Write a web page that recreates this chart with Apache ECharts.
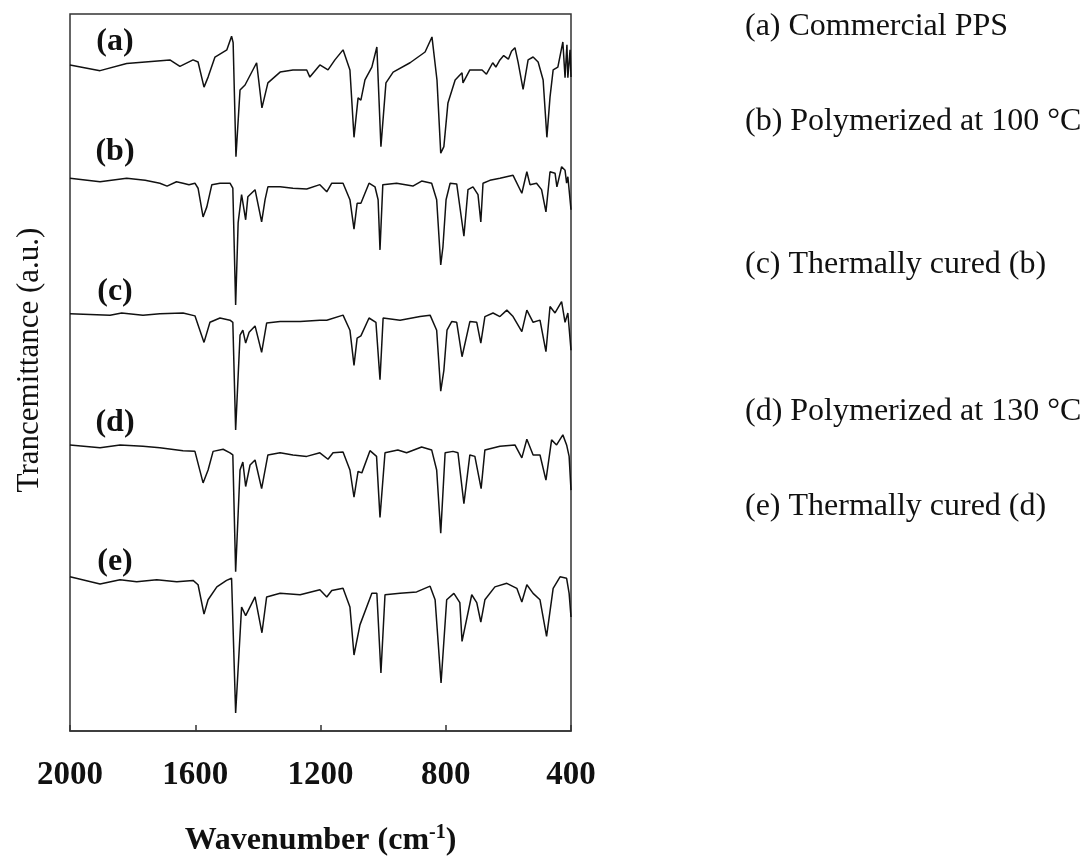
<!DOCTYPE html>
<html>
<head>
<meta charset="utf-8">
<script src="https://cdn.jsdelivr.net/npm/echarts@6/dist/echarts.min.js"></script>
<style>
  html, body { margin: 0; padding: 0; background: #fff; }
  #chart { width: 1083px; height: 857px; }
</style>
</head>
<body>
<div id="chart"></div>
<script>
// wavenumber (cm-1) and transmittance (a.u., stacked offsets)
const waveA = [2000,1995,1904,1819,1681,1649,1607,1591,1572,1559,1537,1499,1484,1479,1470,1457,1441,1404,1387,1368,1329,1288,1244,1234,1202,1176,1154,1128,1122,1106,1093,1080,1071,1058,1036,1020,1007,991,968,914,866,844,838,828,816,806,793,770,748,745,723,684,670,650,640,627,615,600,590,579,569,553,537,521,505,489,477,467,457,442,426,419,413,410,403,400]
const transA = [92.9,92.9,92.1,93.1,93.6,92.7,93.6,93.3,89.8,91.2,94.0,95.0,96.9,96.0,80.1,89.4,90.1,93.2,86.9,90.4,91.9,92.2,92.2,91.2,92.9,92.2,93.6,95.0,95.1,92.2,82.8,88.3,88.0,90.8,92.6,95.4,81.5,90.4,91.9,93.2,94.7,96.8,96.7,90.8,80.6,81.5,87.6,90.8,91.8,90.4,92.2,92.2,91.6,93.2,92.6,93.6,94.2,93.7,94.8,95.3,93.3,89.5,93.6,94.0,93.3,90.8,82.8,88.4,92.2,92.6,96.1,91.1,95.7,91.1,95.0,91.2]

const waveB = [2000,1995,1904,1819,1760,1713,1690,1660,1639,1620,1601,1591,1575,1563,1547,1521,1489,1480,1471,1463,1452,1439,1432,1409,1388,1377,1368,1329,1288,1244,1202,1180,1164,1128,1106,1093,1083,1071,1045,1026,1016,1010,1001,957,905,877,845,829,816,809,799,786,765,742,729,713,697,688,681,659,627,585,557,541,531,510,494,480,467,451,445,430,419,414,410,400]
const transB = [77.1,77.1,76.6,77.1,76.8,76.4,76.0,76.6,76.4,76.2,76.4,75.7,71.7,73.1,76.2,76.4,76.4,75.7,59.4,70.9,74.8,71.3,74.5,75.5,71.0,74.1,75.9,75.9,75.7,75.6,76.2,75.2,76.4,76.4,74.1,70.0,73.6,73.6,76.4,75.9,74.1,67.1,76.2,76.4,76.0,76.7,76.4,74.1,65.0,67.5,74.1,76.4,76.3,69.0,75.5,75.9,74.8,71.0,76.4,76.8,77.1,77.5,75.0,78.0,76.2,76.4,75.5,72.4,78.0,77.8,75.9,78.7,78.2,76.4,77.3,72.7]

const waveC = [2000,1995,1872,1835,1767,1713,1639,1601,1572,1553,1521,1489,1480,1471,1457,1448,1439,1428,1409,1388,1372,1329,1265,1202,1180,1128,1106,1093,1083,1071,1045,1023,1010,1000,946,882,850,829,816,806,796,781,765,748,723,701,688,675,649,627,605,585,557,541,521,499,480,467,451,430,419,410,400]
const transC = [58.2,58.2,58.0,58.3,58.0,58.2,58.3,57.9,54.2,57.0,57.6,57.3,57.0,42.0,55.2,55.9,54.1,55.6,56.5,52.8,56.9,57.1,57.1,57.3,57.3,58.0,55.9,51.0,54.8,55.1,57.6,57.0,49.0,57.6,57.3,57.8,58.0,55.9,47.4,50.3,55.9,57.1,57.0,52.2,57.1,57.0,54.1,57.8,58.3,57.8,58.7,57.8,55.7,58.7,57.0,57.3,52.9,59.2,58.3,59.9,57.0,58.3,53.1]

const waveD = [2000,1995,1904,1840,1767,1713,1639,1601,1575,1559,1543,1511,1489,1480,1471,1457,1448,1439,1425,1409,1388,1368,1329,1288,1244,1202,1176,1160,1128,1106,1093,1080,1068,1042,1021,1010,994,953,925,877,845,829,816,802,777,761,742,723,707,687,675,627,579,557,541,521,499,480,462,446,426,414,406,400]
const transD = [39.9,39.9,39.5,39.9,39.7,39.5,39.1,39.0,34.6,36.4,39.0,39.3,38.8,38.5,22.2,36.4,37.5,34.1,37.1,37.8,33.8,38.5,38.8,38.5,38.3,38.8,37.9,38.8,38.9,36.4,32.6,36.2,36.0,39.1,38.3,29.8,38.8,39.2,38.8,39.6,39.2,36.4,27.6,38.8,39.0,38.8,31.7,38.5,38.3,33.8,39.2,39.7,39.9,38.1,40.7,38.5,38.5,35.0,40.6,39.9,41.3,39.9,38.3,33.6]

const waveE = [2000,1995,1904,1840,1787,1723,1659,1607,1591,1572,1559,1531,1500,1484,1471,1452,1439,1425,1409,1387,1372,1329,1265,1202,1180,1164,1128,1106,1093,1074,1036,1020,1007,994,946,893,850,834,815,797,774,755,748,717,701,688,675,643,605,573,557,541,521,499,478,457,435,414,406,400]
const transE = [21.5,21.5,20.5,21.1,20.8,21.1,20.8,21.0,20.4,16.3,18.3,20.1,21.0,21.3,2.5,17.3,16.1,17.3,18.7,13.7,18.7,19.2,19.0,19.7,18.7,19.6,19.9,17.3,10.6,14.8,19.2,19.2,8.1,19.0,19.2,19.4,20.2,18.3,6.7,18.3,19.2,17.9,12.5,19.0,17.9,15.2,18.3,20.1,20.6,19.9,18.0,20.4,19.2,18.3,13.2,19.9,21.5,21.3,19.2,15.9]

const sampleTags = ['(a)', '(b)', '(c)', '(d)', '(e)']
const sampleNames = ['(a) Commercial PPS', '(b) Polymerized at 100 °C', '(c) Thermally cured (b)', '(d) Polymerized at 130 °C', '(e) Thermally cured (d)']
const xTicks = [2000, 1600, 1200, 800, 400]

const serif = '"Times New Roman", "Liberation Serif", serif'
const waves = [waveA, waveB, waveC, waveD, waveE]
const trans = [transA, transB, transC, transD, transE]

function pairs(w, t) {
  return w.map((v, i) => [v, t[i]])
}

// label positions (px) - in-plot tags and the list on the right
const tagY = [42, 152, 292, 423, 562]
const nameY = [27, 122, 265, 412, 507]

const chart = echarts.init(document.getElementById('chart'))

const graphics = []
sampleTags.forEach((tag, i) => {
  graphics.push({
    type: 'text', x: 115, y: tagY[i],
    style: { text: tag, font: 'bold 32px ' + serif, fill: '#111', textAlign: 'center', textVerticalAlign: 'middle' },
  })
})
sampleNames.forEach((name, i) => {
  graphics.push({
    type: 'text', x: 745, y: nameY[i],
    style: { text: name, font: '32px ' + serif, fill: '#111', textAlign: 'left', textVerticalAlign: 'middle' },
  })
})
graphics.push({
  type: 'text', x: 30, y: 360, rotation: Math.PI / 2,
  style: { text: 'Trancemittance (a.u.)', font: '31px ' + serif, fill: '#111', textAlign: 'center', textVerticalAlign: 'middle' },
})

chart.setOption({
  animation: false,
  backgroundColor: '#fff',
  grid: {
    left: 70, right: 512, top: 14, bottom: 126,
    outerBoundsMode: 'none',
    show: true, borderColor: '#333', borderWidth: 1.5,
  },
  xAxis: {
    type: 'value',
    inverse: true,
    min: 400,
    max: 2000,
    interval: 400,
    splitLine: { show: false },
    axisLine: { show: true, lineStyle: { color: '#333', width: 1.5 } },
    axisTick: { show: true, inside: true, length: 6, lineStyle: { color: '#333', width: 1.5 } },
    axisLabel: {
      margin: 28,
      fontFamily: serif, fontWeight: 'bold', fontSize: 33, color: '#111',
      formatter: (v) => (xTicks.includes(v) ? String(v) : ''),
    },
    name: '{t|Wavenumber (cm}{s|-1}{t|)}',
    nameLocation: 'middle',
    nameGap: 92,
    nameTextStyle: {
      rich: {
        t: { fontFamily: serif, fontWeight: 'bold', fontSize: 32, color: '#111', lineHeight: 36 },
        s: { fontFamily: serif, fontWeight: 'bold', fontSize: 20, color: '#111', verticalAlign: 'top', lineHeight: 36 },
      },
    },
  },
  yAxis: {
    type: 'value',
    min: 0,
    max: 100,
    show: false,
  },
  graphic: graphics,
  series: waves.map((w, i) => ({
    name: sampleNames[i],
    type: 'line',
    data: pairs(w, trans[i]),
    showSymbol: false,
    symbol: 'none',
    silent: true,
    lineStyle: { color: '#111', width: 1.5 },
  })),
})
</script>
</body>
</html>
